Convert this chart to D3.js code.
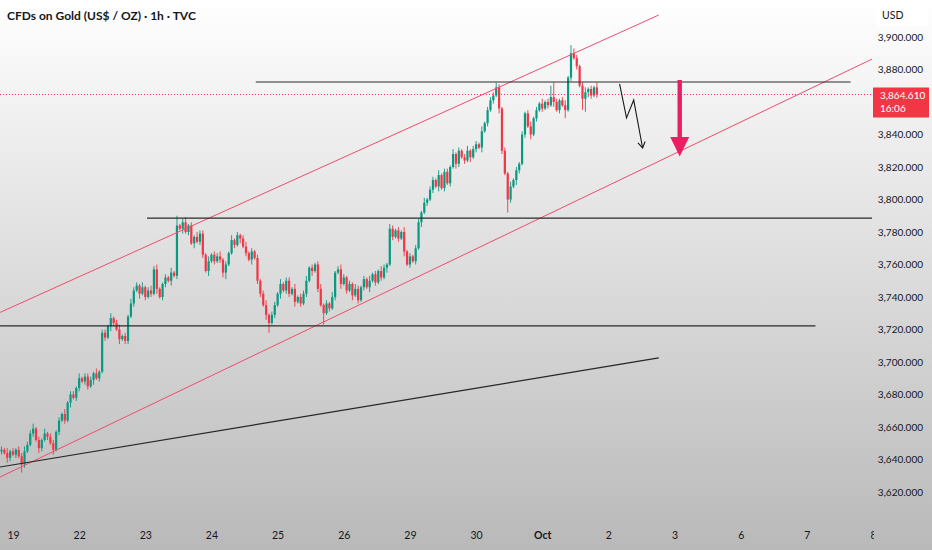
<!DOCTYPE html>
<html>
<head>
<meta charset="utf-8">
<script src="https://cdn.jsdelivr.net/npm/d3@7"></script>
<style>
  body { margin: 0; overflow: hidden; }
  text { font-family: "Lato", "Noto Sans", sans-serif; }
</style>
</head>
<body>
<script>
// ---- data ----
const dayLabels = ["19", "22", "23", "24", "25", "26", "29", "30", "Oct", "2", "3", "6", "7", "8"];
const dayStart = 4;        // bar index of the first labelled session
const barsPerDay = 23;

// 3,860 sits under the last-price badge, so it is not shown
const priceTicks = [3620, 3640, 3660, 3680, 3700, 3720, 3740, 3760, 3780, 3800, 3820, 3840, 3880, 3900];

const firstOpen = 3645;
const closes = [
  3646, 3644, 3641, 3645, 3643, 3646, 3642, 3637, 3645, 3649,
  3656, 3659, 3652, 3647, 3652, 3656, 3654, 3650, 3646, 3657,
  3664, 3668, 3664, 3675, 3680, 3678, 3684, 3690, 3688, 3691,
  3685, 3689, 3693, 3690, 3694, 3718, 3715, 3722, 3727, 3724,
  3720, 3714, 3716, 3713, 3728, 3736, 3744, 3747, 3742, 3746,
  3740, 3744, 3742, 3757, 3745, 3740, 3748, 3752, 3750, 3755,
  3753, 3784, 3782, 3786, 3780, 3784, 3773, 3777, 3774, 3779,
  3766, 3756, 3762, 3766, 3762, 3765, 3763, 3755, 3760, 3767,
  3775, 3772, 3778, 3776, 3771, 3767, 3763, 3768, 3764, 3750,
  3742, 3735, 3729, 3724, 3729, 3735, 3742, 3748, 3744, 3750,
  3742, 3745, 3737, 3740, 3736, 3742, 3750, 3758, 3756, 3760,
  3745, 3735, 3730, 3736, 3733, 3740, 3755, 3757, 3748, 3752,
  3744, 3748, 3741, 3745, 3738, 3746, 3751, 3746, 3750, 3754,
  3749, 3756, 3752, 3758, 3760, 3782, 3777, 3781, 3776, 3780,
  3768, 3760, 3765, 3762, 3770, 3786, 3792, 3798, 3800, 3806,
  3812, 3808, 3815, 3807, 3817, 3810, 3820, 3828, 3822, 3830,
  3826, 3824, 3830, 3826, 3831, 3834, 3832, 3842, 3847, 3855,
  3861, 3864, 3869, 3856, 3830, 3816, 3800, 3808, 3812, 3818,
  3822, 3840, 3853, 3845, 3840, 3850, 3855, 3859, 3856, 3860,
  3858, 3863, 3860, 3855, 3861, 3858, 3855, 3875, 3890, 3887,
  3882, 3870, 3862, 3866, 3868, 3864, 3869, 3864.61
];
// wick lengths in dollars above / below the body, one digit per bar
const wickUp = "2131212232 2312131221 2131221312 2213122131 2312132213 1232311213 1612312132 2131223121 3121231212 1231221312 " +
               "2131223121 2312131232 1213212131 2132132121 3121221312 2131221312 1231221312 2232121312 1212312131 2792123153 21231213";
const wickDn = "2132121521 1213212131 2121312212 2131212132 1312212131 2121312213 1213121312 2131212341 1213121312 2136121312 " +
               "2131212131 2171212131 2131212131 2121312121 3121213121 2131212132 1213121312 1213218213 2121312121 2131215121 21783212";

const lastPrice = 3864.61;
const countdown = "16:06";

// drawings: [bar index, price]
const channelTop = [[-0.5, 3730.5], [228.5, 3913.5]];
const channelBottom = [[-0.5, 3629.2], [305.6, 3888.9]];
const trendLine = [[-0.5, 3635.4], [228.5, 3702.5]];
const levels = [
  { price: 3872.3, from: 88.4, to: 295.2 },
  { price: 3788.6, from: 50.6, to: 310 },
  { price: 3722.2, from: -0.5, to: 283 }
];
const zigzag = [[214.9, 3871.1], [217.3, 3850.2], [219.8, 3861.2], [222.9, 3831.7]];
const bigArrow = { bar: 235.8, top: 3873.5, head: 3838.5, tip: 3826.5 };

// ---- layout ----
const W = 932, H = 550, plotR = 872, plotB = 522;
const up = "#089981", down = "#f23645", pink = "#ee4d70";

const x = d3.scaleLinear()
  .domain([dayStart, dayStart + barsPerDay * (dayLabels.length - 1)])
  .range([13, 873]);
const y = d3.scaleLinear().domain([3620, 3900]).range([492, 37]);

const svg = d3.select("body").append("svg")
  .attr("width", W).attr("height", H);

const defs = svg.append("defs");
const grad = defs.append("linearGradient").attr("id", "bg")
  .attr("x1", 0).attr("y1", 0).attr("x2", 0).attr("y2", 1);
grad.append("stop").attr("offset", "0%").attr("stop-color", "#ffffff");
grad.append("stop").attr("offset", "100%").attr("stop-color", "#b9b9b9");
defs.append("clipPath").attr("id", "plot")
  .append("rect").attr("width", plotR).attr("height", plotB);
defs.append("clipPath").attr("id", "timeaxis")
  .append("rect").attr("width", 874).attr("height", H);

svg.append("rect").attr("width", W).attr("height", H).attr("fill", "url(#bg)");

const plot = svg.append("g").attr("clip-path", "url(#plot)");

// candles
const wu = wickUp.replace(/ /g, ""), wd = wickDn.replace(/ /g, "");
let prev = firstOpen;
const candles = closes.map((c, i) => {
  const o = prev;
  prev = c;
  return { i, o, c, hi: Math.max(o, c) + +wu[i], lo: Math.min(o, c) - +wd[i] };
});

const bw = 2.2;
const cg = plot.append("g");
cg.selectAll("line")
  .data(candles)
  .join("line")
    .attr("x1", d => x(d.i)).attr("x2", d => x(d.i))
    .attr("y1", d => y(d.hi)).attr("y2", d => y(d.lo))
    .attr("stroke", d => d.c >= d.o ? up : down)
    .attr("stroke-width", 0.9);
cg.selectAll("rect")
  .data(candles)
  .join("rect")
    .attr("x", d => x(d.i) - bw / 2)
    .attr("width", bw)
    .attr("y", d => y(Math.max(d.o, d.c)))
    .attr("height", d => Math.max(1, Math.abs(y(d.o) - y(d.c))))
    .attr("fill", d => d.c >= d.o ? up : down);

// last price dotted line
plot.append("line")
  .attr("x1", 0).attr("x2", plotR)
  .attr("y1", y(lastPrice)).attr("y2", y(lastPrice))
  .attr("stroke", down).attr("stroke-width", 1)
  .attr("stroke-dasharray", "1,2");

// drawings
const line = d3.line().x(d => x(d[0])).y(d => y(d[1]));
plot.append("path").attr("d", line(channelTop))
  .attr("fill", "none").attr("stroke", pink).attr("stroke-width", 1);
plot.append("path").attr("d", line(channelBottom))
  .attr("fill", "none").attr("stroke", pink).attr("stroke-width", 1);
plot.append("path").attr("d", line(trendLine))
  .attr("fill", "none").attr("stroke", "#262626").attr("stroke-width", 1.2);
plot.selectAll(".level")
  .data(levels)
  .join("line")
    .attr("class", "level")
    .attr("x1", d => x(d.from)).attr("x2", d => x(d.to))
    .attr("y1", d => y(d.price)).attr("y2", d => y(d.price))
    .attr("stroke", "#2a2a2a").attr("stroke-width", 1.2);

// zigzag arrow
plot.append("path").attr("d", line(zigzag))
  .attr("fill", "none").attr("stroke", "#1a1a1a").attr("stroke-width", 1.1);
{
  const a = zigzag[zigzag.length - 2], b = zigzag[zigzag.length - 1];
  const tx = x(b[0]), ty = y(b[1]);
  const ang = Math.atan2(ty - y(a[1]), tx - x(a[0]));
  const len = 7, spread = 0.55;
  const p1 = [tx - len * Math.cos(ang - spread), ty - len * Math.sin(ang - spread)];
  const p2 = [tx - len * Math.cos(ang + spread), ty - len * Math.sin(ang + spread)];
  plot.append("path")
    .attr("d", `M${p1}L${tx},${ty}L${p2}`)
    .attr("fill", "none").attr("stroke", "#1a1a1a").attr("stroke-width", 1.1);
}

// big pink arrow
{
  const ax = x(bigArrow.bar), sw = 2.2, hw = 9.5;
  const arrow = `M${ax - sw},${y(bigArrow.top)}L${ax + sw},${y(bigArrow.top)}` +
    `L${ax + sw},${y(bigArrow.head)}L${ax + hw},${y(bigArrow.head)}` +
    `L${ax},${y(bigArrow.tip)}L${ax - hw},${y(bigArrow.head)}` +
    `L${ax - sw},${y(bigArrow.head)}Z`;
  plot.append("path").attr("d", arrow).attr("fill", "#e91e63");
}

// price axis
const yAxis = svg.append("g")
  .attr("transform", `translate(${plotR},0)`)
  .call(d3.axisRight(y).tickValues(priceTicks).tickFormat(d3.format(",.3f")).tickSize(0));
yAxis.select(".domain").remove();
yAxis.selectAll("text")
  .attr("x", 51).attr("text-anchor", "end")
  .attr("fill", "#131722").attr("font-size", 10)
  .style("font-family", "Lato, 'Noto Sans', sans-serif");

// time axis
const xAxis = svg.append("g")
  .attr("transform", `translate(0,${plotB + 7})`)
  .attr("clip-path", "url(#timeaxis)")
  .call(d3.axisBottom(x)
    .tickValues(dayLabels.map((d, k) => dayStart + barsPerDay * k))
    .tickFormat((d, k) => dayLabels[k])
    .tickSize(0).tickPadding(3));
xAxis.select(".domain").remove();
xAxis.selectAll("text")
  .attr("fill", "#131722").attr("font-size", 10.5)
  .attr("font-weight", (d, k) => dayLabels[k] === "Oct" ? 700 : 400)
  .style("font-family", "Lato, 'Noto Sans', sans-serif");

// last price label
const lp = svg.append("g").attr("transform", `translate(${plotR + 1},${y(lastPrice) - 7})`);
lp.append("rect").attr("width", 56).attr("height", 30).attr("fill", down);
lp.append("text").attr("x", 7).attr("y", 11).attr("fill", "#fff").attr("font-size", 10)
  .text(d3.format(",.3f")(lastPrice));
lp.append("text").attr("x", 7).attr("y", 24).attr("fill", "#fff").attr("font-size", 10)
  .text(countdown);

// currency box
svg.append("rect").attr("x", 876).attr("y", 4).attr("width", 52).attr("height", 22)
  .attr("fill", "#ffffff").attr("rx", 2);
svg.append("text").attr("x", 882).attr("y", 19).attr("fill", "#131722")
  .attr("font-size", 10.5).text("USD");

// title
svg.append("text").attr("x", 7).attr("y", 20)
  .attr("fill", "#131722").attr("font-size", 12).attr("font-weight", 700)
  .text("CFDs on Gold (US$ / OZ) · 1h · TVC");
</script>
</body>
</html>
